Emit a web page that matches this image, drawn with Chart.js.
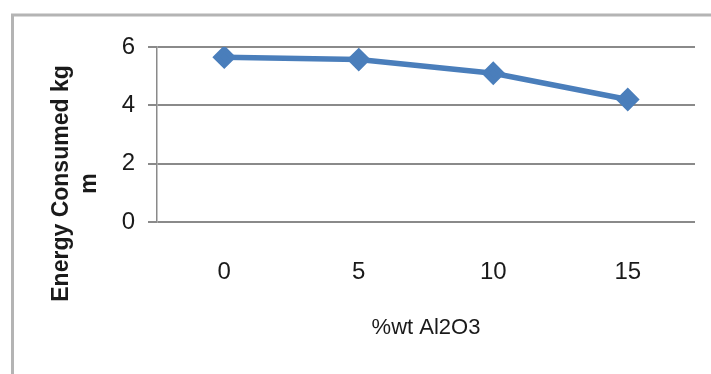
<!DOCTYPE html>
<html>
<head>
<meta charset="utf-8">
<script src="https://cdn.jsdelivr.net/npm/chart.js@4.4.1/dist/chart.umd.min.js"></script>
<style>
  html, body { margin: 0; padding: 0; background: #ffffff; }
  #wrap { width: 711px; height: 374px; position: relative; }
</style>
</head>
<body>
<div id="wrap"><canvas id="c" width="711" height="374"></canvas></div>
<script>
// Alumina content (%wt) and the energy consumed at each level
const categories = ['0', '5', '10', '15'];
const energyConsumed = [5.65, 5.57, 5.1, 4.2];
const yTickValues = [0, 2, 4, 6];
const xAxisTitle = '%wt Al2O3';
const yAxisTitleLines = ['Energy Consumed kg', 'm'];

const lineColor = '#4a7ebb';
const gridColor = '#8a8a8a';
const textColor = '#1a1a1a';
const labelFont = "'Liberation Sans', Arial, sans-serif";

// White page with the light grey frame around the chart
const framePlugin = {
  id: 'frame',
  beforeDraw(chart) {
    const ctx = chart.ctx;
    ctx.save();
    ctx.fillStyle = '#ffffff';
    ctx.fillRect(0, 0, chart.width, chart.height);
    ctx.strokeStyle = '#b4b4b4';
    ctx.lineWidth = 3;
    ctx.beginPath();
    ctx.moveTo(12.5, chart.height);
    ctx.lineTo(12.5, 15);
    ctx.lineTo(chart.width, 15);
    ctx.stroke();
    ctx.restore();
  }
};

// Two-line rotated title for the value axis
const yTitlePlugin = {
  id: 'yTitle',
  afterDraw(chart) {
    const ctx = chart.ctx;
    const area = chart.chartArea;
    ctx.save();
    ctx.translate(area.left - 95, (area.top + area.bottom) / 2 + 49);
    ctx.rotate(-Math.PI / 2);
    ctx.font = "bold 23px 'Liberation Sans', Arial, sans-serif";
    ctx.fillStyle = textColor;
    ctx.textAlign = 'center';
    ctx.textBaseline = 'middle';
    yAxisTitleLines.forEach((line, i) => ctx.fillText(line, 0, i * 28));
    ctx.restore();
  }
};

new Chart(document.getElementById('c'), {
  type: 'line',
  data: {
    labels: categories,
    datasets: [{
      data: energyConsumed,
      borderColor: lineColor,
      backgroundColor: lineColor,
      borderWidth: 5.5,
      pointStyle: 'rectRot',
      pointRadius: 8,
      pointHoverRadius: 8,
      pointBackgroundColor: lineColor,
      pointBorderColor: lineColor,
      tension: 0
    }]
  },
  plugins: [framePlugin, yTitlePlugin],
  options: {
    responsive: false,
    animation: false,
    devicePixelRatio: 1,
    layout: { padding: { left: 0, top: 47, right: 16, bottom: 0 } },
    plugins: { legend: { display: false }, tooltip: { enabled: false } },
    scales: {
      x: {
        type: 'category',
        offset: true,
        grid: { display: false, drawTicks: false },
        border: { display: false },
        ticks: {
          color: textColor,
          padding: 36,
          font: { family: labelFont, size: 24 }
        },
        title: {
          display: true,
          text: xAxisTitle,
          color: textColor,
          font: { family: labelFont, size: 22, lineHeight: 1.2 },
          padding: { top: 4, bottom: 33 }
        },
        afterFit(scale) { scale.height = 152; }
      },
      y: {
        min: 0,
        max: 6,
        afterBuildTicks(scale) { scale.ticks = yTickValues.map(v => ({ value: v })); },
        grid: { color: gridColor, lineWidth: 2, tickLength: 9, drawTicks: true },
        border: { display: true, color: gridColor, width: 1.5 },
        ticks: {
          color: textColor,
          padding: 13,
          font: { family: labelFont, size: 24 }
        },
        afterFit(scale) { scale.width = 157; }
      }
    }
  }
});
</script>
</body>
</html>
